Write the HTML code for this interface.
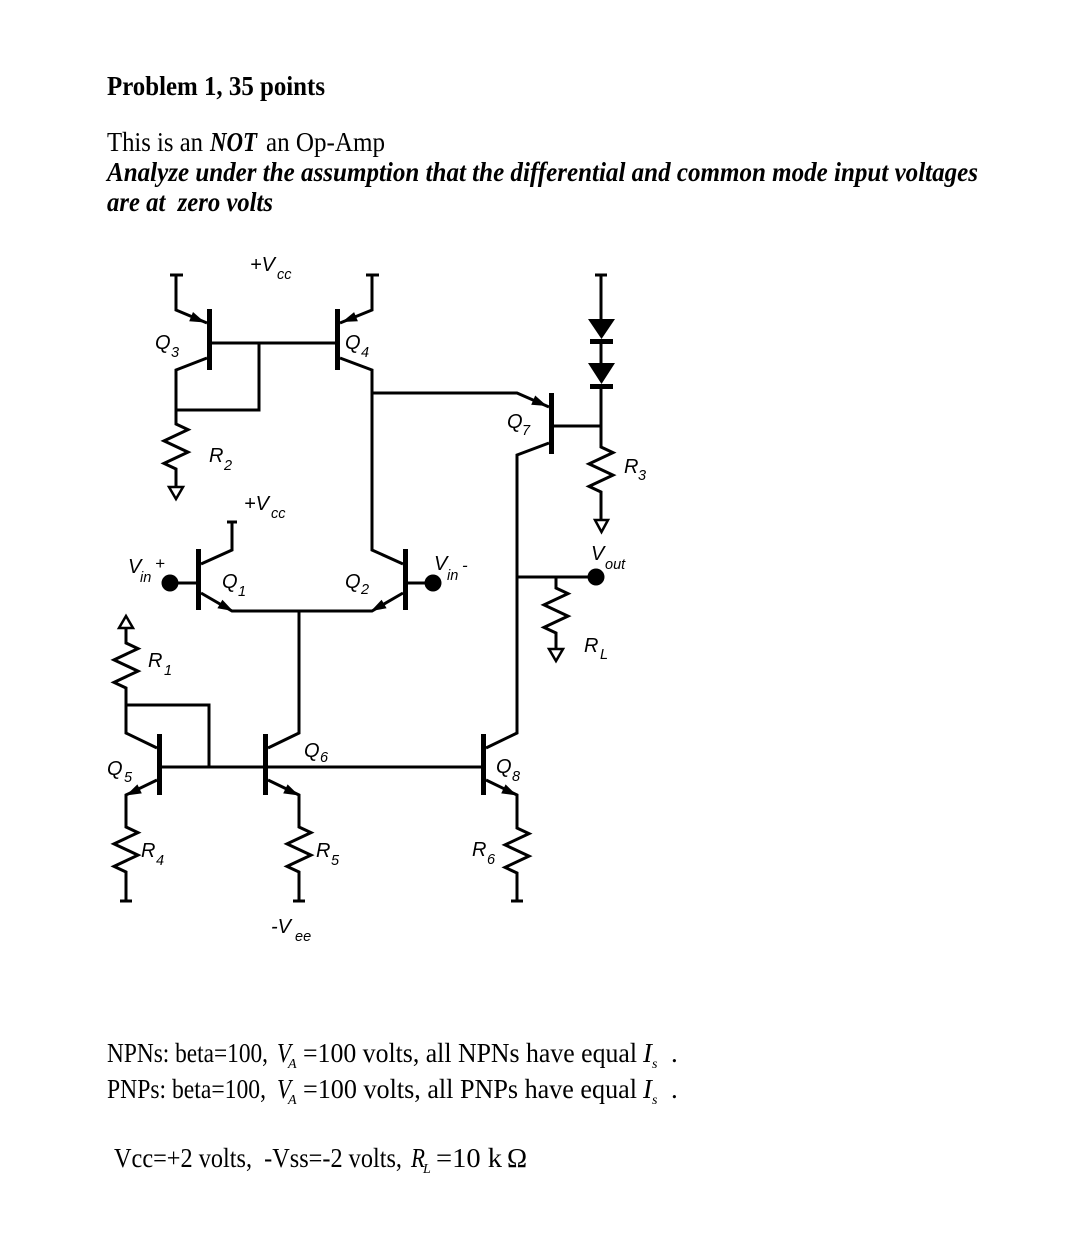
<!DOCTYPE html>
<html>
<head>
<meta charset="utf-8">
<style>
html,body{margin:0;padding:0;background:#fff;}
svg{display:block;}
.t{font-family:"Liberation Serif",serif;fill:#000;white-space:pre;}
.l{font-family:"Liberation Sans",sans-serif;font-style:italic;fill:#000;font-size:20px;}
.s{font-family:"Liberation Sans",sans-serif;font-style:italic;fill:#000;font-size:14.5px;}
</style>
</head>
<body>
<svg width="1067" height="1241" viewBox="0 0 1067 1241" xmlns="http://www.w3.org/2000/svg">
<rect width="1067" height="1241" fill="#fff"/>

<!-- Header text -->
<text class="t" x="107" y="95" font-size="27" font-weight="bold" textLength="218" lengthAdjust="spacingAndGlyphs">Problem 1, 35 points</text>
<text class="t" x="107" y="151" font-size="27" textLength="96" lengthAdjust="spacingAndGlyphs">This is an</text>
<text class="t" x="210" y="151" font-size="27" font-weight="bold" font-style="italic" textLength="47" lengthAdjust="spacingAndGlyphs">NOT</text>
<text class="t" x="266" y="151" font-size="27" textLength="119" lengthAdjust="spacingAndGlyphs">an Op-Amp</text>
<text class="t" x="107" y="181" font-size="27" font-weight="bold" font-style="italic" textLength="871" lengthAdjust="spacingAndGlyphs">Analyze under the assumption that the differential and common mode input voltages</text>
<text class="t" x="107" y="211" font-size="27" font-weight="bold" font-style="italic" textLength="166" lengthAdjust="spacingAndGlyphs">are at  zero volts</text>

<!-- Circuit wires -->
<g stroke="#000" stroke-width="3" fill="none" stroke-linejoin="miter" stroke-linecap="butt">
  <path d="M170 275 H183"/>
  <path d="M176 275 V310 L207 323"/>
  <path d="M207 358 L176 370 V410 H259 V343"/>
  <path d="M212 343 H335"/>
  <path d="M176 410 V424 L188 429.6 L164 440.9 L188 452.1 L164 463.4 L176 469 V487"/>
  <path d="M169 487 H183 L176 499 Z" stroke-width="2.5"/>
  <path d="M366 275 H379"/>
  <path d="M372 275 V310 L340 323"/>
  <path d="M340 358 L372 370 V550 L403 564"/>
  <path d="M372 393 H517 L549 407"/>
  <path d="M554 426 H601"/>
  <path d="M549 443 L517 455 V733 L486 748"/>
  <path d="M595 275 H607"/>
  <path d="M601 275 V320"/>
  <path d="M601 342 V364"/>
  <path d="M601 386 V447 L613 452.6 L589 463.9 L613 475.1 L589 486.4 L601 492 V520"/>
  <path d="M595 520 H608 L601.5 532 Z" stroke-width="2.5"/>
  <path d="M517 577 H596"/>
  <path d="M556 577 V588 L568 593.6 L544 604.9 L568 616.1 L544 627.4 L556 633 V649"/>
  <path d="M549 649 H563 L556 661 Z" stroke-width="2.5"/>
  <path d="M227 522 H237"/>
  <path d="M232 522 V550 L201 564"/>
  <path d="M201 593 L232 611 H372 L403 593"/>
  <path d="M170 583 H196"/>
  <path d="M408 583 H433"/>
  <path d="M299 611 V733 L268 748"/>
  <path d="M119 628 H133 L126 616 Z" stroke-width="2.5"/>
  <path d="M126 628 V643 L138 648.6 L114 659.9 L138 671.1 L114 682.4 L126 688 V733 L157 748"/>
  <path d="M126 705 H209 V767"/>
  <path d="M162 767 H481"/>
  <path d="M157 780 L126 795 V827 L138 832.6 L114 843.9 L138 855.1 L114 866.4 L126 872 V901"/>
  <path d="M120 901 H132"/>
  <path d="M268 780 L299 795 V827 L311 832.6 L287 843.9 L311 855.1 L287 866.4 L299 872 V901"/>
  <path d="M293 901 H305"/>
  <path d="M486 780 L517 795 V828 L529 833.6 L505 844.9 L529 856.1 L505 867.4 L517 873 V901"/>
  <path d="M511 901 H523"/>
</g>

<g fill="#000">
  <rect x="207" y="309" width="5" height="61"/>
  <rect x="335" y="309" width="5" height="61"/>
  <rect x="549" y="393" width="5" height="61"/>
  <rect x="196" y="549" width="5" height="61"/>
  <rect x="403" y="549" width="5" height="61"/>
  <rect x="157" y="734" width="5" height="61"/>
  <rect x="263" y="734" width="5" height="61"/>
  <rect x="481" y="734" width="5" height="61"/>
  <polygon points="588,319 615,319 601.5,339"/>
  <rect x="590" y="339" width="23" height="5"/>
  <polygon points="588,363 615,363 601.5,384"/>
  <rect x="590" y="384" width="23" height="5"/>
  <circle cx="170" cy="583" r="8.5"/>
  <circle cx="433" cy="583" r="8.5"/>
  <circle cx="596" cy="577" r="8.5"/>
  <polygon points="205,322.5 189.2,321.2 193.0,312.0"/>
  <polygon points="342,322 354.1,312.1 357.9,321.3"/>
  <polygon points="547,406 531.2,404.7 535.2,395.5"/>
  <polygon points="233,611 217.4,608.3 222.4,599.7"/>
  <polygon points="371,611 381.6,599.7 386.6,608.3"/>
  <polygon points="126,795.5 137.4,784.4 141.8,793.4"/>
  <polygon points="299,795.5 283.2,793.4 287.6,784.4"/>
  <polygon points="517,795.5 501.2,793.4 505.6,784.4"/>
</g>

<!-- Circuit labels -->
<text class="l" x="250" y="271">+V</text><text class="s" x="277" y="279">cc</text>
<text class="l" x="155" y="349">Q</text><text class="s" x="171" y="357">3</text>
<text class="l" x="345" y="349">Q</text><text class="s" x="361" y="357">4</text>
<text class="l" x="209" y="462">R</text><text class="s" x="224" y="470">2</text>
<text class="l" x="244" y="510">+V</text><text class="s" x="271" y="518">cc</text>
<text class="l" x="507" y="428">Q</text><text class="s" x="522" y="435">7</text>
<text class="l" x="624" y="473">R</text><text class="s" x="638" y="480">3</text>
<text class="l" x="128" y="573">V</text><text class="s" x="140" y="582">in</text><text class="l" x="155" y="569" style="font-size:17px">+</text>
<text class="l" x="222" y="588">Q</text><text class="s" x="238" y="596">1</text>
<text class="l" x="345" y="588">Q</text><text class="s" x="361" y="594">2</text>
<text class="l" x="434" y="570">V</text><text class="s" x="447" y="580">in</text><text class="l" x="462" y="571" style="font-size:17px">-</text>
<text class="l" x="591" y="560">V</text><text class="s" x="605" y="569">out</text>
<text class="l" x="584" y="652">R</text><text class="s" x="600" y="659">L</text>
<text class="l" x="148" y="667">R</text><text class="s" x="164" y="675">1</text>
<text class="l" x="107" y="775">Q</text><text class="s" x="124" y="782">5</text>
<text class="l" x="304" y="757">Q</text><text class="s" x="320" y="762">6</text>
<text class="l" x="141" y="857">R</text><text class="s" x="156" y="865">4</text>
<text class="l" x="316" y="857">R</text><text class="s" x="331" y="865">5</text>
<text class="l" x="271" y="933">-V</text><text class="s" x="295" y="941">ee</text>
<text class="l" x="496" y="773">Q</text><text class="s" x="512" y="781">8</text>
<text class="l" x="472" y="856">R</text><text class="s" x="487" y="864">6</text>

<!-- Bottom text -->
<text class="t" x="107" y="1062" font-size="27" textLength="161" lengthAdjust="spacingAndGlyphs">NPNs: beta=100,</text>
<text class="t" x="277" y="1062" font-size="27" font-style="italic" textLength="14" lengthAdjust="spacingAndGlyphs">V</text>
<text class="t" x="288" y="1068" font-size="14" font-style="italic">A</text>
<text class="t" x="303" y="1062" font-size="27" textLength="334" lengthAdjust="spacingAndGlyphs">=100 volts, all NPNs have equal</text>
<text class="t" x="643" y="1062" font-size="27" font-style="italic" textLength="9" lengthAdjust="spacingAndGlyphs">I</text>
<text class="t" x="652" y="1068" font-size="14" font-style="italic">s</text>
<text class="t" x="671" y="1062" font-size="27">.</text>

<text class="t" x="107" y="1098" font-size="27" textLength="159" lengthAdjust="spacingAndGlyphs">PNPs: beta=100,</text>
<text class="t" x="277" y="1098" font-size="27" font-style="italic" textLength="14" lengthAdjust="spacingAndGlyphs">V</text>
<text class="t" x="288" y="1104" font-size="14" font-style="italic">A</text>
<text class="t" x="303" y="1098" font-size="27" textLength="334" lengthAdjust="spacingAndGlyphs">=100 volts, all PNPs have equal</text>
<text class="t" x="643" y="1098" font-size="27" font-style="italic" textLength="9" lengthAdjust="spacingAndGlyphs">I</text>
<text class="t" x="652" y="1104" font-size="14" font-style="italic">s</text>
<text class="t" x="671" y="1098" font-size="27">.</text>

<text class="t" x="114" y="1167" font-size="27" textLength="288" lengthAdjust="spacingAndGlyphs">Vcc=+2 volts,  -Vss=-2 volts,</text>
<text class="t" x="411" y="1167" font-size="27" font-style="italic" textLength="14" lengthAdjust="spacingAndGlyphs">R</text>
<text class="t" x="423" y="1173" font-size="14" font-style="italic">L</text>
<text class="t" x="436" y="1167" font-size="27" textLength="66" lengthAdjust="spacingAndGlyphs">=10 k</text>
<text class="t" x="507" y="1167" font-size="27">Ω</text>
</svg>
</body>
</html>
